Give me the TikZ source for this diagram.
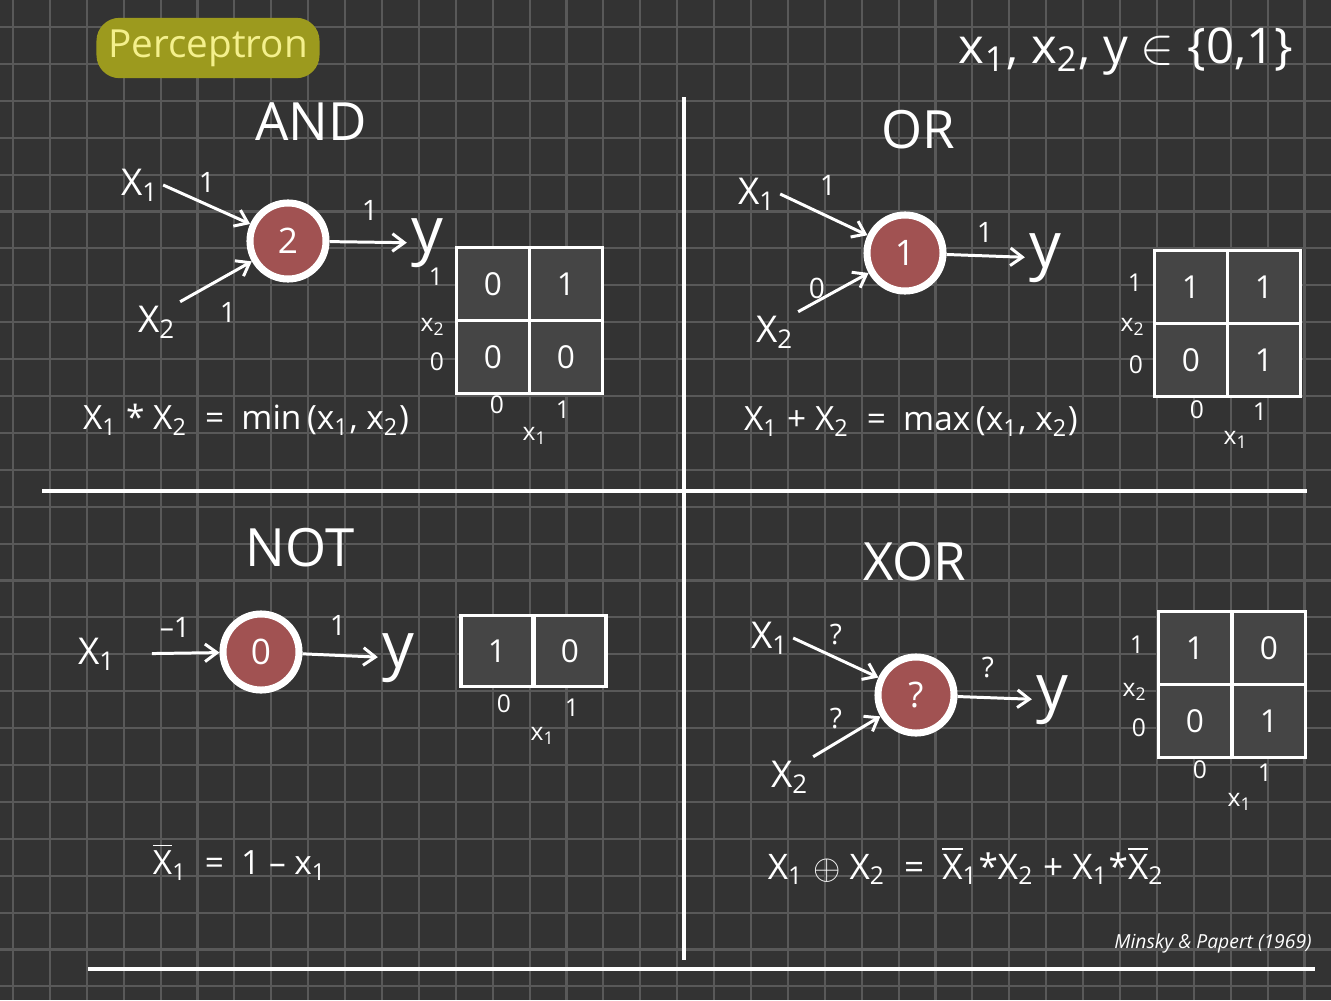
\documentclass[tikz,border=0pt]{standalone}
\usepackage{fontspec}
\setmainfont{Open Sans}
\usepackage{tikz}
\usetikzlibrary{arrows.meta}
\definecolor{boardc}{HTML}{333333}
\definecolor{gridc}{HTML}{595959}
\definecolor{neuronc}{HTML}{A15252}
\definecolor{cellc}{HTML}{454545}
\definecolor{markc}{HTML}{9C9A1E}
\definecolor{marktextc}{HTML}{F4F08C}
\newcommand{\sbs}[1]{\textsubscript{#1}}
\newcommand{\negx}[1]{$\overline{\mbox{X}}$\sbs{#1}}
\tikzset{
  gridline/.style={draw=gridc, line width=0.6pt},
  divider/.style={draw=white, line width=0.9pt},
  neuron/.style={circle, draw=white, fill=neuronc, line width=2pt,
    minimum size=0.76cm, inner sep=0pt, text=white, font=\fontsize{10}{12}\selectfont},
  inlabel/.style={text=white, font=\fontsize{10.5}{12}\selectfont, inner sep=1pt},
  outlabel/.style={text=white, font=\fontsize{18}{20}\selectfont, inner sep=1pt},
  weight/.style={text=white, font=\fontsize{8}{10}\selectfont, inner sep=0pt},
  gatename/.style={text=white, font=\fontsize{15}{17}\selectfont},
  formula/.style={text=white, font=\fontsize{9.5}{11}\selectfont},
  cellbox/.style={rectangle, draw=white, fill=cellc, line width=1pt,
    minimum width=0.73cm, minimum height=0.73cm, text=white, font=\fontsize{9}{10}\selectfont},
  axislabel/.style={text=white, font=\fontsize{7}{8}\selectfont, inner sep=0pt},
  wire/.style={-{Straight Barb[length=3.4pt, width=5pt]}, draw=white, line width=0.85pt},
}
\begin{document}
\begin{tikzpicture}[x=0.01cm, y=-0.01cm]
  \useasboundingbox (0,0) rectangle (1331,1000);
  \fill[boardc] (0,0) rectangle (1331,1000);
  \foreach \i in {0,...,35}
    \draw[gridline] ({13+36.9*\i},0) -- ({13+36.9*\i},1000);
  \foreach \j in {0,...,26}
    \draw[gridline] (0,{27+36.9*\j}) -- (1331,{27+36.9*\j});

  % header
  \node[rectangle, rounded corners=0.23cm, fill=markc, minimum width=2.15cm,
    minimum height=0.47cm, text=marktextc, font=\fontsize{11}{13}\selectfont] (title) at (208,48) {Perceptron};
  \node[formula, font=\fontsize{14}{16}\selectfont] (domain) at (1126,52) {x\sbs{1}, x\sbs{2}, y $\in$ \{0,1\}};

  % quadrant rules
  \draw[divider] (684,97) -- (684,960);
  \draw[divider] (42,491) -- (1307,491);
  \draw[divider] (88,969) -- (1315,969);

  % AND
  \node[gatename] (andname) at (311,122) {AND};
  \node[neuron] (andn) at (288,241) {2};
  \node[inlabel] (andx1) at (140,185) {X\sbs{1}};
  \node[inlabel] (andx2) at (157,322) {X\sbs{2}};
  \node[outlabel] (andy) at (427,243) {y};
  \draw[wire] (andx1.east) -- (andn);
  \draw[wire] (andx2.north east) -- (andn);
  \draw[wire] (andn) -- (andy);
  \node[weight] (andw1) at (207,182) {1};
  \node[weight] (andw2) at (228,312) {1};
  \node[weight] (andw3) at (370,210) {1};
  \node[cellbox] (andc01) at (493,284) {0};
  \node[cellbox] (andc11) at (566,284) {1};
  \node[cellbox] (andc00) at (493,357) {0};
  \node[cellbox] (andc10) at (566,357) {0};
  \node[axislabel] (andr1) at (436,277) {1};
  \node[axislabel] (andrx) at (433,327) {x\sbs{2}};
  \node[axislabel] (andr0) at (437,362) {0};
  \node[axislabel] (andk0) at (497,405) {0};
  \node[axislabel] (andk1) at (563,410) {1};
  \node[axislabel] (andkx) at (535,436) {x\sbs{1}};
  \node[formula] (andf) at (246,420) {X\sbs{1} * X\sbs{2} \ = \ min\,(x\sbs{1}, x\sbs{2})};

  % OR
  \node[gatename] (orname) at (918,130) {OR};
  \node[neuron] (orn) at (905,253) {1};
  \node[inlabel] (orx1) at (757,194) {X\sbs{1}};
  \node[inlabel] (orx2) at (775,332) {X\sbs{2}};
  \node[outlabel] (ory) at (1045,258) {y};
  \draw[wire] (orx1.east) -- (orn);
  \draw[wire] (orx2.north east) -- (orn);
  \draw[wire] (orn) -- (ory);
  \node[weight] (orw1) at (828,185) {1};
  \node[weight] (orw2) at (817,288) {0};
  \node[weight] (orw3) at (985,232) {1};
  \node[cellbox] (orc01) at (1191,287) {1};
  \node[cellbox] (orc11) at (1264,287) {1};
  \node[cellbox] (orc00) at (1191,360) {0};
  \node[cellbox] (orc10) at (1264,360) {1};
  \node[axislabel] (orr1) at (1135,283) {1};
  \node[axislabel] (orrx) at (1133,327) {x\sbs{2}};
  \node[axislabel] (orr0) at (1136,365) {0};
  \node[axislabel] (ork0) at (1197,410) {0};
  \node[axislabel] (ork1) at (1260,412) {1};
  \node[axislabel] (orkx) at (1236,440) {x\sbs{1}};
  \node[formula] (orf) at (911,422) {X\sbs{1} + X\sbs{2} \ = \ max\,(x\sbs{1}, x\sbs{2})};

  % NOT
  \node[gatename] (notname) at (300,548) {NOT};
  \node[neuron] (notn) at (261,652) {0};
  \node[inlabel] (notx1) at (97,654) {X\sbs{1}};
  \node[outlabel] (noty) at (398,658) {y};
  \draw[wire, shorten <=9pt] (notx1.east) -- (notn);
  \draw[wire] (notn) -- (noty);
  \node[weight] (notw1) at (175,627) {–1};
  \node[weight] (notw2) at (338,625) {1};
  \node[cellbox, minimum width=0.72cm, minimum height=0.71cm] (notc0) at (497,651) {1};
  \node[cellbox, minimum width=0.72cm, minimum height=0.71cm] (notc1) at (570,651) {0};
  \node[axislabel] (notk0) at (504,704) {0};
  \node[axislabel] (notk1) at (572,708) {1};
  \node[axislabel] (notkx) at (543,736) {x\sbs{1}};
  \node[formula] (notf) at (240,862) {\negx{1} \ = \ 1 – x\sbs{1}};

  % XOR
  \node[gatename] (xorname) at (915,562) {XOR};
  \node[neuron] (xorn) at (916,695) {?};
  \node[inlabel] (xorx1) at (770,638) {X\sbs{1}};
  \node[inlabel] (xorx2) at (790,777) {X\sbs{2}};
  \node[outlabel] (xory) at (1052,700) {y};
  \draw[wire] (xorx1.east) -- (xorn);
  \draw[wire] (xorx2.north east) -- (xorn);
  \draw[wire] (xorn) -- (xory);
  \node[weight] (xorw1) at (836,635) {?};
  \node[weight] (xorw2) at (836,718) {?};
  \node[weight] (xorw3) at (988,668) {?};
  \node[cellbox] (xorc01) at (1195,648) {1};
  \node[cellbox] (xorc11) at (1269,648) {0};
  \node[cellbox] (xorc00) at (1195,721) {0};
  \node[cellbox] (xorc10) at (1269,721) {1};
  \node[axislabel] (xorr1) at (1137,645) {1};
  \node[axislabel] (xorrx) at (1135,692) {x\sbs{2}};
  \node[axislabel] (xorr0) at (1139,728) {0};
  \node[axislabel] (xork0) at (1200,770) {0};
  \node[axislabel] (xork1) at (1265,773) {1};
  \node[axislabel] (xorkx) at (1240,802) {x\sbs{1}};
  \node[formula, font=\fontsize{10}{12}\selectfont] (xorf) at (966,866) {X\sbs{1} $\oplus$ X\sbs{2} \ = \ \negx{1}*X\sbs{2} + X\sbs{1}*\negx{2}};

  \node[text=white, font=\fontsize{5.5}{6.5}\selectfont\itshape] (source) at (1213,943) {Minsky \& Papert (1969)};
\end{tikzpicture}
\end{document}
